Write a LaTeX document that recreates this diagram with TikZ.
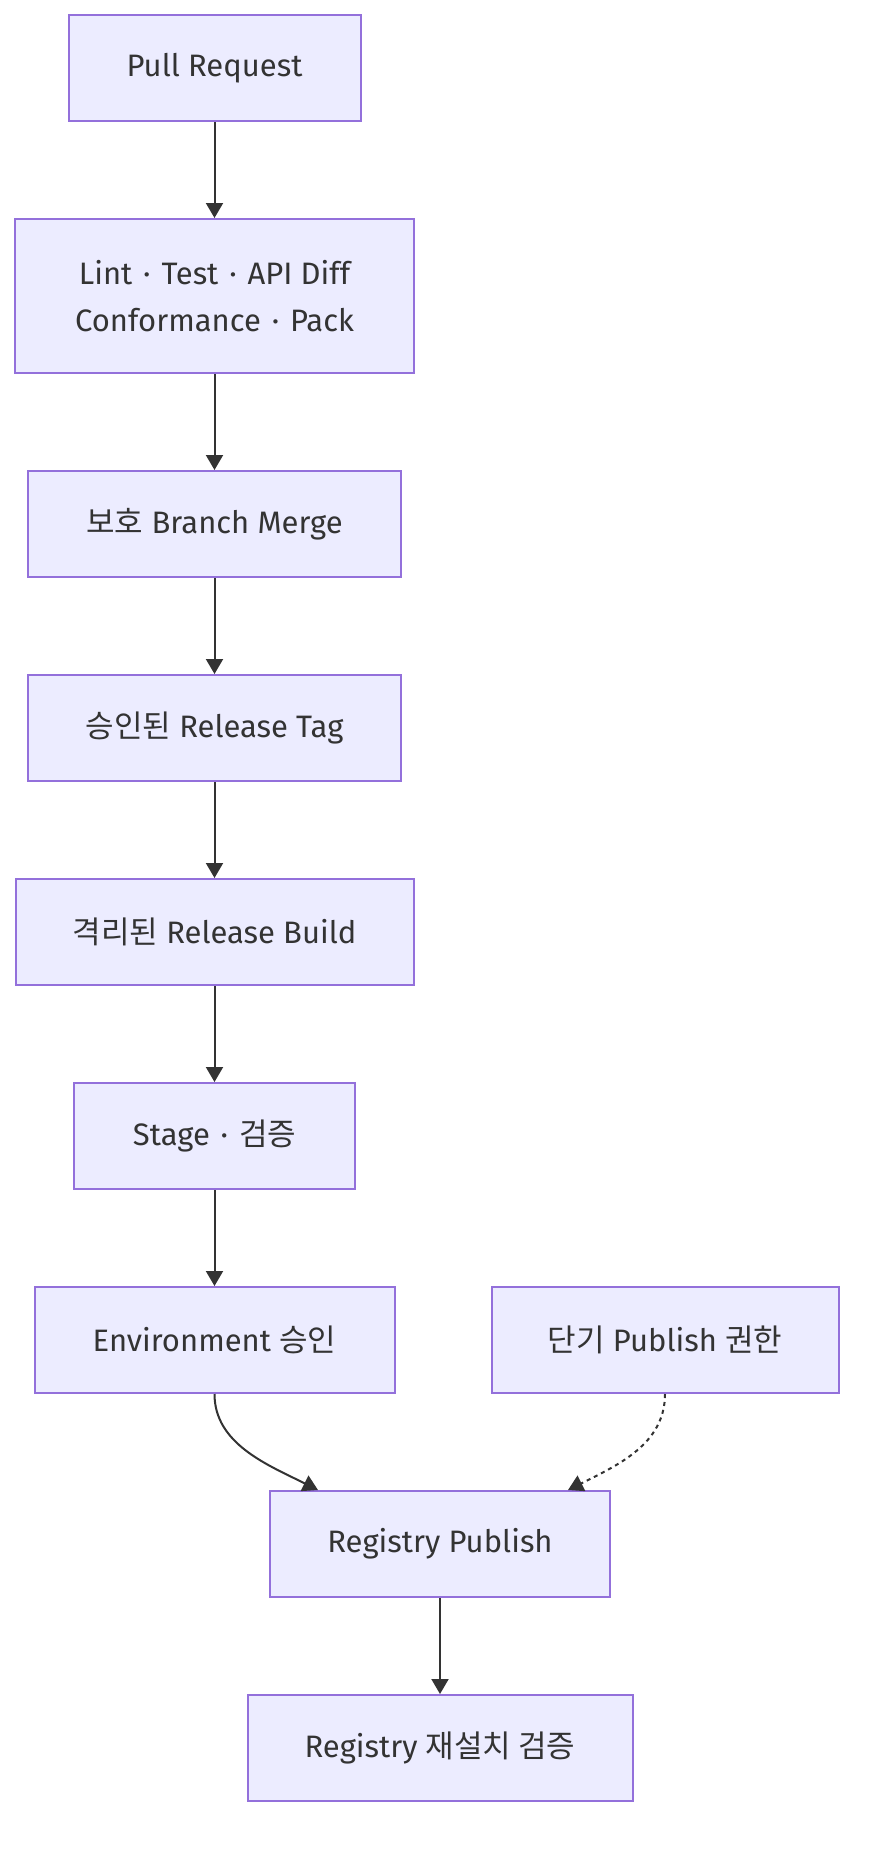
\documentclass[tikz,border=0pt]{standalone}
\usepackage{fontspec}
\setmainfont{Fira Sans}
\newfontfamily\kr{Noto Sans CJK KR}
\usetikzlibrary{arrows.meta,calc}
\definecolor{boxfill}{HTML}{ECECFF}
\definecolor{boxline}{HTML}{9370DB}
\definecolor{ink}{HTML}{333333}
\newcommand{\dotsep}{\hspace{0.35em}·\hspace{0.35em}}
\tikzset{
  box/.style={draw=boxline, fill=boxfill, line width=2pt, inner sep=0pt,
    text=ink, font=\fontsize{31}{47}\selectfont, align=center, minimum height=106pt},
  arr/.style={draw=ink, line width=2pt, -{Triangle[width=17pt,length=15pt]}},
  dotarr/.style={arr, dash pattern=on 4pt off 4pt}
}
\begin{document}
\begin{tikzpicture}[x=1pt,y=-1pt]
\useasboundingbox (0,0) rectangle (870,1852);
\node[box, minimum width=292pt] (pr) at (214.5,68) {Pull Request};
\node[box, minimum width=399pt, minimum height=154pt] (lint) at (214.5,296) {Lint\dotsep Test\dotsep API Diff\\Conformance\dotsep Pack};
\node[box, minimum width=373pt] (merge) at (214.5,524) {{\kr 보호} Branch Merge};
\node[box, minimum width=373pt] (tag) at (214.5,728) {{\kr 승인된} Release Tag};
\node[box, minimum width=398pt] (build) at (214.5,932) {{\kr 격리된} Release Build};
\node[box, minimum width=281pt] (stage) at (214.5,1136) {Stage\dotsep{\kr 검증}};
\node[box, minimum width=360pt] (env) at (214.5,1340) {Environment {\kr 승인}};
\node[box, minimum width=347pt] (cred) at (665,1340) {{\kr 단기} Publish {\kr 권한}};
\node[box, minimum width=340pt] (rp) at (440,1544) {Registry Publish};
\node[box, minimum width=385pt] (rr) at (440,1748) {Registry {\kr 재설치 검증}};
\coordinate (rpl) at ($(rp.north west)+(49,0)$);
\coordinate (rpr) at ($(rp.north east)+(-43,0)$);
\draw[arr] (pr) -- (lint);
\draw[arr] (lint) -- (merge);
\draw[arr] (merge) -- (tag);
\draw[arr] (tag) -- (build);
\draw[arr] (build) -- (stage);
\draw[arr] (stage) -- (env);
\draw[arr] (env.south) .. controls ($(env.south)+(0,50)$) and ($(rpl)+(-50,-25)$) .. (rpl);
\draw[dotarr] (cred.south) .. controls ($(cred.south)+(0,50)$) and ($(rpr)+(50,-25)$) .. (rpr);
\draw[arr] (rp) -- (rr);
\end{tikzpicture}
\end{document}
